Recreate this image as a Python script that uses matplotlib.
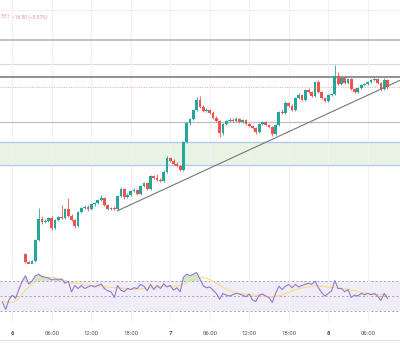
import numpy as np
import pandas as pd
import matplotlib
matplotlib.use("Agg")
import matplotlib.pyplot as plt
import matplotlib.dates as mdates
from matplotlib.lines import Line2D

plt.rcParams['font.family'] = ['Roboto', 'DejaVu Sans']

# ---------------- data ----------------
open_ = [2681, 2676, 2671, 2685, 2691, 2688, 2701,
         2727, 2719, 2717, 2720, 2741, 2762, 2759, 2760, 2763, 2753,
         2761, 2764, 2763, 2772, 2765, 2761, 2755, 2769, 2773, 2774,
         2772, 2777, 2778, 2781, 2783, 2776, 2772, 2773, 2772, 2785,
         2792, 2784, 2786, 2790, 2791, 2787, 2795, 2798, 2792, 2805,
         2803, 2801, 2800, 2809, 2823, 2820, 2817, 2815, 2811, 2839,
         2858, 2862, 2871, 2881, 2874, 2870, 2871, 2868, 2863, 2860,
         2848, 2857, 2860, 2861, 2860, 2862, 2859, 2861, 2857, 2855,
         2853, 2849, 2857, 2859, 2856, 2854, 2847, 2856, 2869, 2868,
         2878, 2875, 2871, 2883, 2886, 2881, 2891, 2889, 2885, 2899,
         2889, 2883, 2880, 2886, 2887, 2905, 2897, 2903, 2898, 2902,
         2892, 2889, 2893, 2896, 2897, 2899, 2901, 2902, 2898, 2892, 2901]
high = [2683, 2678, 2687, 2693, 2692, 2702, 2715,
        2728, 2720, 2721, 2742, 2773, 2765, 2762, 2764, 2765, 2762,
        2765, 2776, 2773, 2783, 2767, 2762, 2770, 2774, 2776, 2776,
        2778, 2779, 2782, 2786, 2784, 2777, 2774, 2775, 2786, 2794,
        2793, 2788, 2791, 2793, 2792, 2796, 2799, 2799, 2806, 2806,
        2807, 2803, 2811, 2825, 2824, 2822, 2819, 2816, 2840, 2859,
        2863, 2872, 2884, 2885, 2876, 2873, 2872, 2870, 2865, 2861,
        2858, 2861, 2863, 2863, 2864, 2863, 2862, 2862, 2858, 2856,
        2854, 2858, 2860, 2860, 2857, 2855, 2857, 2870, 2872, 2880,
        2879, 2877, 2884, 2888, 2887, 2892, 2893, 2890, 2900, 2901,
        2890, 2884, 2887, 2888, 2916, 2909, 2904, 2905, 2903, 2903,
        2893, 2894, 2897, 2898, 2900, 2902, 2903, 2903, 2899, 2903, 2902]
low = [2674, 2669, 2669, 2684, 2686, 2687, 2699,
       2718, 2716, 2716, 2719, 2740, 2757, 2758, 2759, 2751, 2752,
       2760, 2762, 2762, 2764, 2760, 2753, 2754, 2768, 2772, 2770,
       2771, 2775, 2777, 2780, 2775, 2771, 2771, 2771, 2770.3, 2784,
       2782, 2783, 2785, 2789, 2786, 2786, 2794, 2791, 2791, 2802,
       2800, 2799, 2799, 2808, 2819, 2816, 2814, 2810, 2810, 2838,
       2856, 2861, 2870, 2873, 2869, 2869, 2867, 2862, 2859, 2844,
       2846, 2856, 2859, 2859, 2859, 2858, 2858, 2856, 2854, 2852,
       2847, 2848, 2856, 2855, 2853, 2845, 2846, 2855, 2867, 2867,
       2874, 2870, 2870, 2882, 2880, 2880, 2888, 2884, 2884, 2888,
       2882, 2879, 2879, 2885, 2886, 2896, 2896, 2897, 2897, 2891,
       2888, 2888, 2892, 2895, 2896, 2898, 2900, 2897, 2890, 2891, 2892]
close = [2676, 2671, 2685, 2691, 2688, 2701, 2713,
         2719, 2717, 2720, 2741, 2762, 2759, 2760, 2763, 2753, 2761,
         2764, 2763, 2772, 2765, 2761, 2755, 2769, 2773, 2774, 2772,
         2777, 2778, 2781, 2783, 2776, 2772, 2773, 2772, 2785, 2792,
         2784, 2786, 2790, 2791, 2787, 2795, 2798, 2792, 2805, 2803,
         2801, 2800, 2809, 2823, 2820, 2817, 2815, 2811, 2839, 2858,
         2862, 2871, 2881, 2874, 2870, 2871, 2868, 2863, 2860, 2848,
         2857, 2860, 2861, 2860, 2862, 2859, 2861, 2857, 2855, 2853,
         2849, 2857, 2859, 2856, 2854, 2847, 2856, 2869, 2868, 2878,
         2875, 2871, 2883, 2886, 2881, 2891, 2889, 2885, 2899, 2889,
         2883, 2880, 2886, 2887, 2905, 2897, 2903, 2898, 2902, 2892,
         2889, 2893, 2896, 2897, 2899, 2901, 2902, 2898, 2892, 2901, 2893.51]
rsi = [42, 32, 45, 51, 47, 58.6, 69.8,
       77, 66, 70, 77, 79, 76, 75, 74, 71.5, 72.8,
       71.5, 72.8, 67, 69.8, 55.6, 64, 60, 64, 60, 62,
       64, 62, 64, 66, 60, 57, 55.6, 48, 64, 57.7,
       55.6, 60, 58.6, 61, 60, 65.5, 63, 57, 65.5, 58.6,
       64, 60, 66.3, 62, 64, 57.7, 61, 55.6, 75, 79.2,
       77, 79, 81.4, 72.8, 64, 61, 62, 57.7, 53.4, 45.7,
       53.4, 51.3, 50, 51.7, 53.4, 52.6, 51, 49, 52.6, 44.8,
       42.7, 51.3, 52.6, 50, 48, 41.4, 53.4, 63, 58.6, 63,
       65.5, 61, 65.5, 62, 64, 65.5, 67, 65.5, 69.8, 61,
       54.3, 50, 53.4, 57, 70.6, 60, 60, 55.6, 58.6, 48,
       51.3, 50, 53.4, 51.7, 53.4, 51.7, 53.4, 50, 44, 53.4, 47]
rsi_ma = [43, 42, 41.5, 41.5, 43, 47, 53,
          58, 62, 66, 69, 71.5, 73, 74.5, 75, 75, 74.5,
          73.5, 72, 70.5, 69, 68, 67, 66.5, 66, 65, 64.5,
          64, 63.5, 63, 63, 62.5, 62, 61.5, 61, 61, 60.5,
          60, 59.5, 59, 58.7, 59, 59.5, 60, 60.5, 61, 61.5,
          62, 62.5, 62.7, 63, 63, 63, 63.5, 64.5, 66, 68,
          70, 72, 74, 75, 74.5, 73.5, 72, 69.5, 67, 64.5,
          62, 59.5, 57, 55.5, 54.5, 53.5, 53, 52.5, 52, 51.5,
          51, 50.5, 50, 49.5, 49, 48.5, 49, 50, 51.5, 53,
          55, 57, 58.5, 59.5, 60.5, 61.5, 62, 62.5, 63, 63.5,
          63, 62.5, 62, 61.5, 61, 60.5, 60, 59.5, 59, 58,
          57, 56, 55, 54, 53.5, 53, 52.5, 52, 52, 51.5, 51.5]

first_candle = "2025-01-05 22:30"
tick_times = ["2025-01-06 00:00", "2025-01-06 06:00", "2025-01-06 12:00", "2025-01-06 18:00",
              "2025-01-07 00:00", "2025-01-07 06:00", "2025-01-07 12:00", "2025-01-07 18:00",
              "2025-01-08 00:00", "2025-01-08 06:00"]
tick_labels = ["6", "06:00", "12:00", "18:00", "7", "06:00", "12:00", "18:00", "8", "06:00"]
view_range = ["2025-01-05 22:08", "2025-01-08 10:54"]

resistance_levels = [2941, 2904]
support_level = 2859
faint_levels = [2971, 2917]
zone_low, zone_high = 2816, 2839
trend_times = ["2025-01-06 16:00", "2025-01-08 10:54"]
trend_prices = [2770.3, 2900.7]
close_tail = "3.51"
change_value = -16.50
change_pct = -0.57

# ---------------- figure ----------------
W, H = 400, 355
fig = plt.figure(figsize=(W / 100, H / 100), dpi=100)
fig.patch.set_facecolor("white")

def fy(p):
    return 1 - p / H

ax = fig.add_axes([0, fy(264), 1, 264 / H])
ax2 = fig.add_axes([0, fy(322), 1, (322 - 264) / H])

times = pd.date_range(first_candle, periods=len(close), freq="30min")
t = mdates.date2num(times)
o = np.array(open_); h = np.array(high); l = np.array(low); c = np.array(close)
up = c >= o
up_col, dn_col = "#26a69a", "#ef5350"
cols = np.where(up, up_col, dn_col)

x0, x1 = mdates.date2num(pd.to_datetime(view_range))
tt = mdates.date2num(pd.to_datetime(tick_times))

# main pane
ax.set_xlim(x0, x1)
ax.set_ylim(2717, 2981)
ax.set_xticks(tt)
ax.tick_params(length=0, labelbottom=False, labelleft=False)
ax.set_yticks([])
ax.grid(axis="x", color="#f1f2f5", lw=0.8, zorder=0)
for s in ["top", "left", "right"]:
    ax.spines[s].set_visible(False)
ax.spines["bottom"].set_color("#e0e3eb")
ax.spines["bottom"].set_linewidth(0.8)

ax.axhspan(zone_low, zone_high, color="#e7f4e4", zorder=1, lw=0)
for lv in (zone_low, zone_high):
    ax.axhline(lv, color="#b6c8f2", lw=1.0, zorder=2)
ax.axhline(faint_levels[0], color="#eeeff2", lw=0.8, zorder=1)
ax.axhline(faint_levels[1], color="#d6d8dd", lw=0.8, zorder=1)
ax.axhline(resistance_levels[0], color="#b4b6bc", lw=1.2, zorder=2)
ax.axhline(resistance_levels[1], color="#8d9097", lw=1.4, zorder=2)
ax.axhline(support_level, color="#bdbec3", lw=0.9, zorder=2)
ax.axhline(close[-1], color="#f5a3aa", lw=0.7, ls=(0, (1, 1.5)), zorder=2)

w = 0.42 / 24
ax.vlines(t, l, h, colors=cols, lw=0.6, zorder=3)
ax.bar(t, np.maximum(np.abs(c - o), 0.8), bottom=np.minimum(o, c), width=w,
       color=cols, lw=0, zorder=3)

ax.plot(mdates.date2num(pd.to_datetime(trend_times)), trend_prices,
        color="#777777", lw=0.8, zorder=4)

# RSI pane
ax2.set_xlim(x0, x1)
ax2.set_ylim(15.3, 92.7)
ax2.axhspan(30, 70, color="#7e57c2", alpha=0.10, lw=0, zorder=0)
for lv in (70, 50, 30):
    ax2.axhline(lv, color="#9a9ca6", lw=0.6, ls=(0, (2.5, 2.5)), zorder=1)
r = np.array(rsi)
ax2.fill_between(t, 70, r, where=r > 70, interpolate=True, color="#bfe5c3",
                 alpha=0.8, lw=0, zorder=1)
ax2.plot(t, rsi_ma, color="#f6dc84", lw=0.8, zorder=2)
ax2.plot(t, rsi, color="#9279d1", lw=0.8, zorder=3)
ax2.set_yticks([])
ax2.set_xticks(tt, tick_labels)
ax2.grid(axis="x", color="#f1f2f5", lw=0.8, zorder=0)
ax2.tick_params(axis="x", length=0, pad=6.5, labelsize=4.3, labelcolor="#50535e")
for lab in ax2.get_xticklabels():
    if ":" not in lab.get_text():
        lab.set_fontweight("bold")
for s in ax2.spines.values():
    s.set_visible(False)

fig.add_artist(Line2D([0, 1], [fy(340), fy(340)], transform=fig.transFigure,
                      color="#e3e5ea", lw=0.8))

# legend text (visible part at the left edge)
fig.text(0.5 / W, fy(17), close_tail, ha="left", va="center",
         fontsize=3.5, color="#f08a90")
fig.text(11.5 / W, fy(17), f"\u2212{abs(change_value):.2f} (\u2212{abs(change_pct):.2f}%)",
         ha="left", va="center", fontsize=3.5, color="#f08a90")

fig.savefig("out.png", dpi=100, facecolor="white")
